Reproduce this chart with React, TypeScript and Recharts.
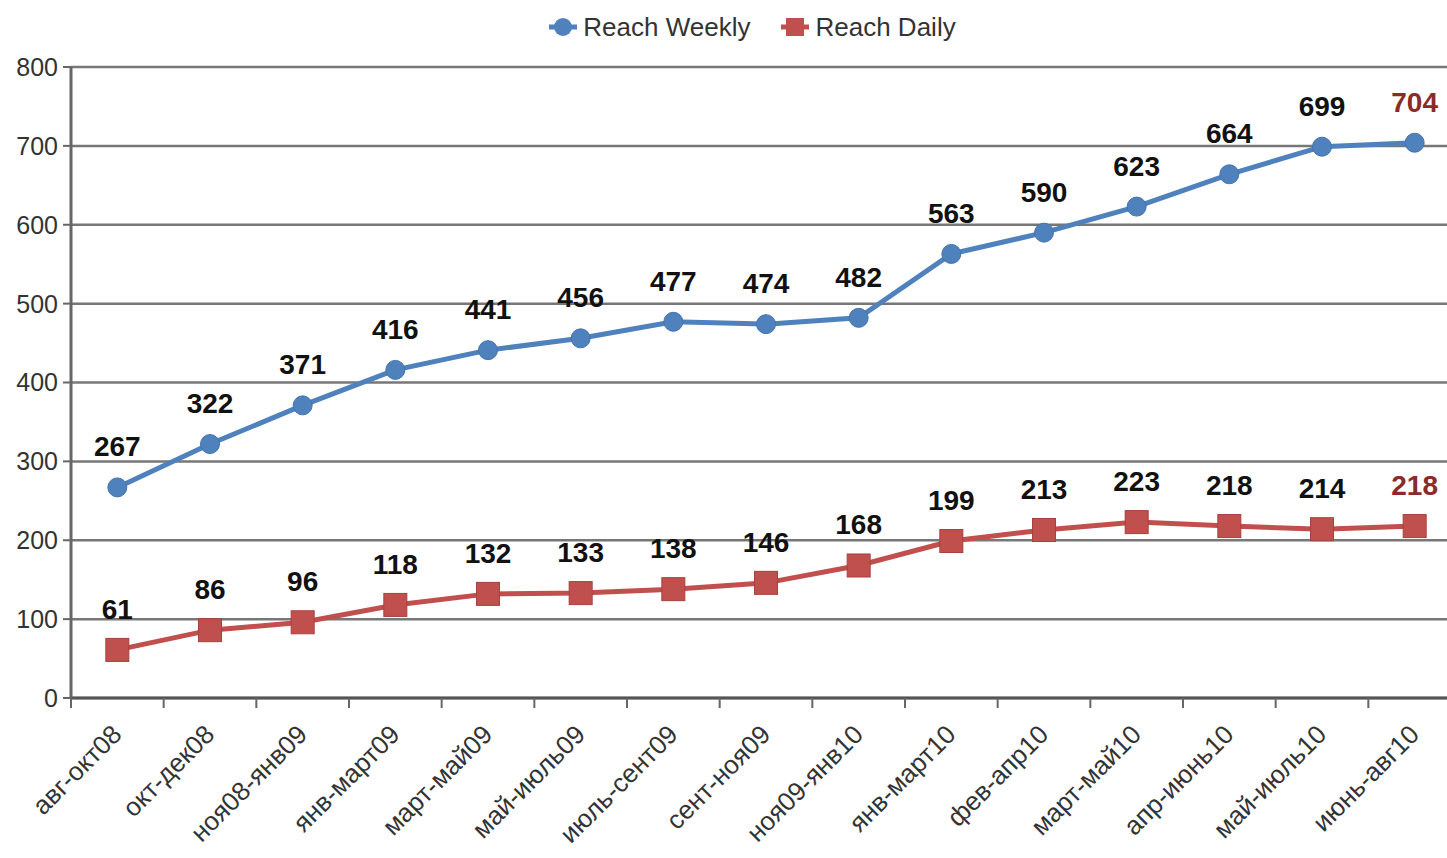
import React from "react";
import { LineChart, Line, XAxis, YAxis, CartesianGrid, Legend, LabelList } from "recharts";

const categories = [
  "авг-окт08", "окт-дек08", "ноя08-янв09", "янв-март09", "март-май09",
  "май-июль09", "июль-сент09", "сент-ноя09", "ноя09-янв10", "янв-март10",
  "фев-апр10", "март-май10", "апр-июнь10", "май-июль10", "июнь-авг10",
];
const reachWeekly = [267, 322, 371, 416, 441, 456, 477, 474, 482, 563, 590, 623, 664, 699, 704];
const reachDaily = [61, 86, 96, 118, 132, 133, 138, 146, 168, 199, 213, 223, 218, 214, 218];
const yTicks = [0, 100, 200, 300, 400, 500, 600, 700, 800];

const data = categories.map((c, i) => ({ idx: i, cat: c, weekly: reachWeekly[i], daily: reachDaily[i] }));
const xTicks: number[] = [];
for (let i = -0.5; i <= categories.length - 0.5; i += 0.5) xTicks.push(i);

const BLUE = "#4f81bd";
const RED = "#c0504d";
const FONT = "'Liberation Sans', Arial, sans-serif";

const XTick = (props: any) => {
  const { x, y, payload } = props;
  const v = payload.value as number;
  if (Math.abs(v - Math.round(v)) > 0.01) {
    return <line x1={x} y1={y - 10} x2={x} y2={y} stroke="#666" strokeWidth={2} />;
  }
  return (
    <text
      transform={`translate(${x + 6},${y + 28}) rotate(-45)`}
      textAnchor="end"
      fontSize={26}
      fontFamily={FONT}
      fill="#333"
    >
      {categories[Math.round(v)]}
    </text>
  );
};

const makeLabel = (last: number) => (props: any) => {
  const { x, y, value, index } = props;
  const isLast = index === last;
  return (
    <text
      x={x}
      y={y - 31}
      textAnchor="middle"
      fontSize={28}
      fontWeight="bold"
      fontFamily={FONT}
      fill={isLast ? "#8b2a2a" : "#111"}
    >
      {value}
    </text>
  );
};

const SquareDot = (props: any) => {
  const { cx, cy } = props;
  if (cx == null || cy == null) return null;
  return <rect x={cx - 11.5} y={cy - 11.5} width={23} height={23} fill={RED} stroke="#a8403d" strokeWidth={1} />;
};

const LegendContent = () => (
  <div
    style={{
      height: 67,
      display: "flex",
      justifyContent: "center",
      alignItems: "flex-start",
      paddingLeft: 34,
      boxSizing: "border-box",
      fontFamily: FONT,
      fontSize: 26,
      color: "#333",
    }}
  >
    <div style={{ display: "flex", alignItems: "center", marginTop: 12, height: 30 }}>
      <svg width={30} height={24} style={{ marginRight: 5 }}>
        <line x1={1} y1={12} x2={29} y2={12} stroke={BLUE} strokeWidth={5} />
        <circle cx={15} cy={12} r={9} fill={BLUE} />
      </svg>
      <span>Reach Weekly</span>
      <svg width={30} height={24} style={{ marginLeft: 30, marginRight: 5 }}>
        <line x1={1} y1={12} x2={29} y2={12} stroke={RED} strokeWidth={5} />
        <rect x={6} y={3} width={18} height={18} fill={RED} />
      </svg>
      <span>Reach Daily</span>
    </div>
  </div>
);

export default function App() {
  return (
    <div style={{ position: "absolute", left: 0, top: 0, width: 1447, height: 858, overflow: "hidden", background: "#fff" }}>
      <LineChart width={1470} height={858} data={data} margin={{ top: 0, right: 9, left: 0, bottom: 0 }}>
        <Legend
          verticalAlign="top"
          align="center"
          content={<LegendContent />}
          wrapperStyle={{ left: 0, top: 0, width: 1470 }}
        />
        <CartesianGrid vertical={false} stroke="#777" strokeWidth={2.5} />
        <XAxis
          dataKey="idx"
          type="number"
          domain={[-0.5, categories.length - 0.5]}
          ticks={xTicks}
          interval={0}
          height={160}
          tickLine={false}
          tickSize={10}
          tickMargin={0}
          axisLine={{ stroke: "#555", strokeWidth: 3 }}
          tick={<XTick />}
        />
        <YAxis
          width={71}
          domain={[0, 800]}
          ticks={yTicks}
          interval={0}
          tickSize={8}
          tickMargin={5}
          axisLine={{ stroke: "#666", strokeWidth: 3 }}
          tickLine={{ stroke: "#666", strokeWidth: 2 }}
          tick={{ fontSize: 25, fill: "#333", fontFamily: FONT }}
        />
        <Line
          dataKey="weekly"
          name="Reach Weekly"
          stroke={BLUE}
          strokeWidth={5}
          dot={{ r: 9.5, fill: BLUE, stroke: "#4474ae", strokeWidth: 1 }}
          activeDot={false}
          isAnimationActive={false}
        >
          <LabelList dataKey="weekly" content={makeLabel(reachWeekly.length - 1)} />
        </Line>
        <Line
          dataKey="daily"
          name="Reach Daily"
          stroke={RED}
          strokeWidth={5}
          dot={<SquareDot />}
          activeDot={false}
          isAnimationActive={false}
        >
          <LabelList dataKey="daily" content={makeLabel(reachDaily.length - 1)} />
        </Line>
      </LineChart>
    </div>
  );
}
